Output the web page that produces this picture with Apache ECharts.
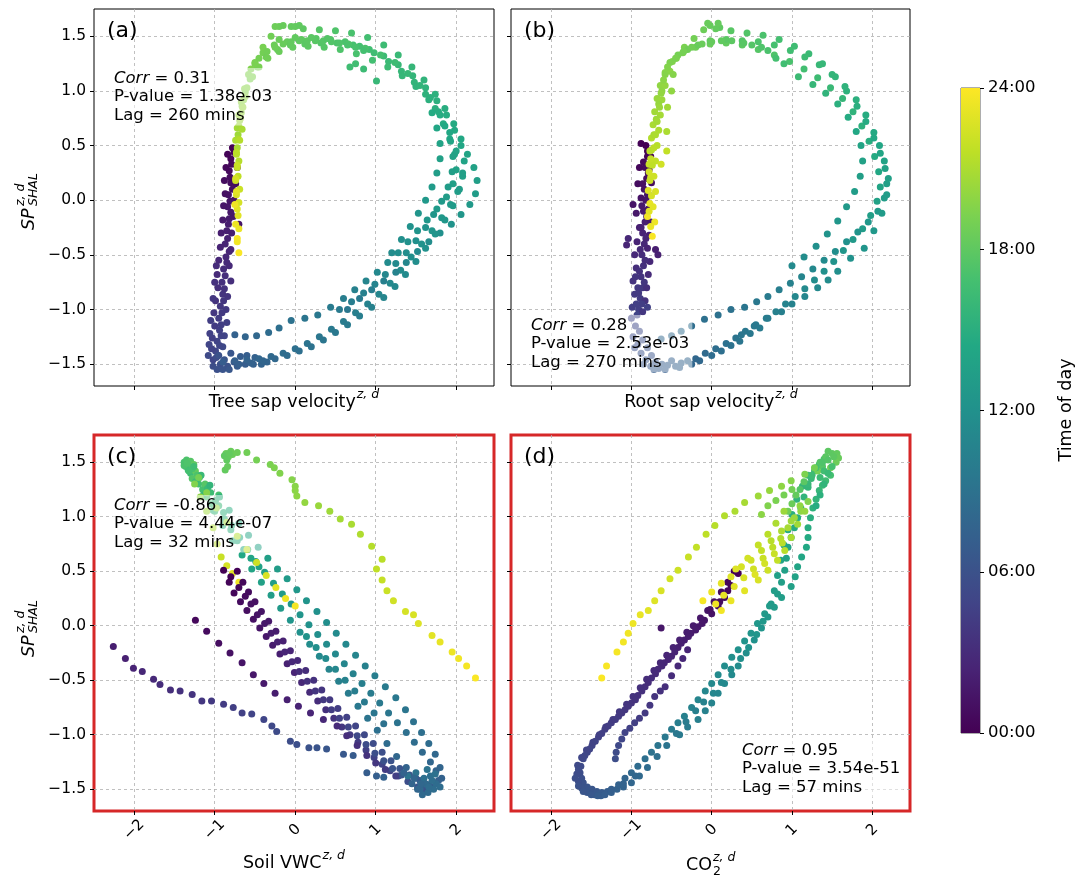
<!DOCTYPE html>
<html>
<head>
<meta charset="utf-8">
<script src="https://cdn.jsdelivr.net/npm/echarts@6/dist/echarts.min.js"></script>
<style>
  html, body { margin: 0; padding: 0; background: #fff; }
  #chart { width: 1087px; height: 880px; }
</style>
</head>
<body>
<div id="chart"></div>
<script>
// tick values
var xTicks = [-2, -1, 0, 1, 2];
var yTicks = [-1.5, -1.0, -0.5, 0.0, 0.5, 1.0, 1.5];
var hourTicks = [0, 6, 12, 18, 24];

var panelLabels = ['(a)', '(b)', '(c)', '(d)'];
var xNames = ['Tree sap velocity', 'Root sap velocity', 'Soil VWC', 'CO'];
var statCorr = ['0.31', '0.28', '-0.86', '0.95'];
var statP = ['1.38e-03', '2.53e-03', '4.44e-07', '3.54e-51'];
var statLag = ['260', '270', '32', '57'];

// [x, y, hour of day]
var treeSap = [
  [-0.78,0.48,0.0],[-0.80,0.38,0.3],[-0.82,0.27,0.6],[-0.80,0.16,0.9],[-0.83,0.05,1.2],[-0.84,-0.06,1.5],[-0.82,-0.17,1.8],[-0.85,-0.28,2.1],[-0.87,-0.40,2.4],[-0.86,-0.52,2.7],[-0.89,-0.63,3.0],[-0.91,-0.75,3.3],[-0.90,-0.86,3.6],[-0.93,-0.97,3.9],[-0.95,-1.08,4.2],[-0.94,-1.19,4.5],[-0.97,-1.29,4.8],[-0.99,-1.38,5.1],
  [-0.84,0.42,0.2],[-0.86,0.30,0.5],[-0.88,0.18,0.8],[-0.87,0.06,1.1],[-0.89,-0.05,1.4],[-0.90,-0.18,1.7],[-0.92,-0.30,2.0],[-0.93,-0.43,2.3],[-0.95,-0.55,2.6],[-0.97,-0.68,2.9],[-0.96,-0.80,3.2],[-0.99,-0.92,3.5],[-1.01,-1.03,3.8],[-1.00,-1.15,4.1],[-1.03,-1.26,4.4],[-1.04,-1.36,4.7],[-1.02,-1.46,5.0],
  [-0.72,0.30,0.4],[-0.74,0.15,0.8],[-0.76,0.00,1.2],[-0.77,-0.15,1.6],[-0.79,-0.30,2.0],[-0.80,-0.45,2.4],[-0.82,-0.60,2.8],[-0.80,-0.74,3.2],[-0.84,-0.88,3.6],[-0.86,-1.00,4.0],[-0.85,-1.12,4.4],[-0.88,-1.24,4.8],[-0.90,-1.34,5.2],[-0.70,-0.22,1.3],
  [-0.76,0.44,0.1],[-0.79,0.33,0.45],[-0.81,0.21,0.75],[-0.78,0.10,1.05],[-0.81,-0.01,1.35],[-0.80,-0.11,1.65],[-0.83,-0.22,1.95],[-0.84,-0.35,2.25],[-0.82,-0.47,2.55],[-0.85,-0.57,2.85],[-0.87,-0.69,3.15],[-0.88,-0.81,3.45],[-0.89,-0.92,3.75],[-0.91,-1.03,4.05],[-0.92,-1.14,4.35],[-0.92,-1.24,4.65],[-0.94,-1.33,4.95],[-0.96,-1.42,5.25],
  [-0.98,-0.60,3.0],[-1.00,-0.75,3.4],[-1.02,-0.90,3.8],[-1.05,-1.10,4.3],[-1.06,-1.22,4.6],[-1.07,-1.32,4.9],[-1.08,-1.42,5.3],
  [-0.98,-1.44,5.5],[-0.93,-1.50,5.8],[-0.84,-1.52,6.1],[-0.95,-1.42,6.0],[-0.88,-1.46,6.3],[-0.76,-1.48,6.6],[-0.80,-1.40,6.4],[-0.68,-1.43,6.9],
  [-1.02,-1.52,5.6],[-0.97,-1.55,5.9],[-0.90,-1.55,6.2],[-0.82,-1.55,6.5],[-0.72,-1.52,6.8],[-0.62,-1.50,7.0],[-0.52,-1.50,7.3],[-0.42,-1.50,7.6],[-0.35,-1.48,7.7],[-0.60,-1.42,7.1],[-0.50,-1.44,7.4],
  [-0.75,-1.23,7.5],[-0.62,-1.25,7.8],[-0.48,-1.24,8.1],[-0.33,-1.21,8.4],[-0.20,-1.17,8.7],[-0.05,-1.10,9.0],[0.12,-1.08,9.3],[0.28,-1.05,9.6],[0.44,-0.98,9.9],[0.60,-0.90,10.2],[0.74,-0.82,10.5],[0.88,-0.74,10.8],[1.02,-0.66,11.1],[1.15,-0.57,11.4],[1.28,-0.48,11.7],[1.40,-0.38,12.0],[1.52,-0.28,12.3],[1.64,-0.18,12.6],[1.76,-0.08,12.9],[1.88,0.03,13.2],[1.96,0.15,13.5],[2.00,0.28,13.8],[1.98,0.42,14.1],[1.92,0.56,14.4],[1.84,0.70,14.7],[1.74,0.84,15.0],[1.62,0.97,15.3],[1.48,1.08,15.6],[1.32,1.18,15.9],[1.16,1.27,16.2],[0.98,1.35,16.5],[0.80,1.41,16.8],[0.62,1.45,17.1],[0.44,1.47,17.4],[0.26,1.48,17.7],[0.08,1.47,18.0],[-0.10,1.45,18.3],[-0.26,1.42,18.6],[-0.40,1.35,18.9],[-0.50,1.26,19.2],[-0.58,1.15,19.5],[-0.63,1.02,19.8],[-0.67,0.90,20.1],[-0.70,0.78,20.4],[-0.72,0.66,20.7],[-0.74,0.55,21.0],[-0.73,0.42,21.4],[-0.72,0.30,21.8],[-0.74,0.18,22.2],[-0.73,0.05,22.6],[-0.72,-0.08,23.0],[-0.74,-0.22,23.4],[-0.72,-0.35,23.8],
  [-0.90,-1.48,7.0],[-0.75,-1.47,7.3],[-0.60,-1.46,7.6],[-0.45,-1.45,7.9],[-0.30,-1.43,8.2],[-0.15,-1.40,8.5],[0.00,-1.36,8.8],[0.15,-1.31,9.1],[0.30,-1.25,9.4],[0.45,-1.18,9.7],[0.60,-1.11,10.0],[0.75,-1.03,10.3],[0.90,-0.95,10.6],[1.04,-0.86,10.9],[1.18,-0.76,11.2],[1.31,-0.64,11.5],[1.44,-0.52,11.8],[1.57,-0.40,12.1],[1.70,-0.28,12.4],[1.82,-0.16,12.7],[1.93,-0.04,13.0],[2.02,0.08,13.3],[2.08,0.22,13.6],[2.10,0.36,13.9],[2.06,0.50,14.2],[1.98,0.64,14.5],[1.88,0.78,14.8],[1.76,0.91,15.1],[1.62,1.03,15.4],[1.46,1.14,15.7],[1.28,1.24,16.0],[1.10,1.32,16.3],[0.92,1.38,16.6],[0.72,1.42,16.9],[0.52,1.44,17.2],[0.32,1.44,17.5],[0.12,1.43,17.8],[-0.06,1.42,18.1],[-0.22,1.38,18.4],[-0.36,1.31,18.7],[-0.47,1.22,19.0],[-0.56,1.11,19.3],[-0.62,0.99,19.6],[-0.66,0.86,19.9],[-0.69,0.73,20.2],[-0.71,0.60,20.5],[-0.72,0.48,20.9],[-0.70,0.36,21.3],[-0.71,0.22,21.7],[-0.69,0.10,22.1],[-0.70,-0.02,22.5],[-0.71,-0.14,22.9],[-0.70,-0.26,23.3],[-0.72,-0.38,23.6],[-0.70,-0.48,23.9],
  [0.65,-1.00,9.5],[0.80,-0.90,9.8],[0.95,-0.82,10.1],[1.10,-0.74,10.4],[1.25,-0.66,10.7],[1.38,-0.57,11.0],[1.52,-0.47,11.3],[1.66,-0.38,11.6],[1.80,-0.30,11.9],[1.94,-0.22,12.2],[2.06,-0.13,12.5],[2.17,-0.04,12.8],[2.24,0.06,13.1],[2.26,0.18,13.4],[2.22,0.30,13.7],[2.14,0.42,14.0],[2.06,0.56,14.3],[1.97,0.70,14.6],[1.86,0.84,14.9],[1.74,0.97,15.2],[1.60,1.10,15.5],[1.45,1.22,15.8],[1.28,1.33,16.1],[1.10,1.42,16.4],[0.90,1.49,16.7],[0.70,1.53,17.0],[0.50,1.55,17.3],[0.30,1.56,17.6],[0.10,1.57,17.9],[-0.05,1.59,18.2],[-0.20,1.59,18.5],[-0.30,1.50,18.8],[-0.40,1.40,19.1],
  [-0.70,-1.50,7.2],[-0.55,-1.49,7.5],[-0.40,-1.47,7.8],[-0.25,-1.45,8.1],[-0.10,-1.42,8.4],[0.05,-1.38,8.7],[0.20,-1.34,9.0],[0.35,-1.28,9.3],[0.50,-1.21,9.6],[0.65,-1.14,9.9],[0.80,-1.06,10.2],[0.95,-0.98,10.5],[1.10,-0.89,10.8],[1.24,-0.79,11.1],[1.37,-0.68,11.4],[1.50,-0.56,11.7],[1.62,-0.44,12.0],[1.74,-0.31,12.3],[1.86,-0.18,12.6],[1.96,-0.05,12.9],[2.04,0.10,13.2],[2.08,0.25,13.5],[2.00,0.45,13.9],[1.92,0.62,14.3],[1.80,0.78,14.7],[1.66,0.92,15.1],[1.50,1.04,15.5],[1.33,1.14,15.9],[1.15,1.22,16.3],[0.96,1.28,16.7],[0.76,1.34,17.0],[0.56,1.38,17.3],[0.36,1.40,17.6],[0.16,1.41,17.9],[-0.03,1.40,18.2],[-0.20,1.36,18.5],[-0.34,1.30,18.8],[-0.45,1.22,19.1],[-0.53,1.13,19.4],[-0.60,1.03,19.7],[-0.64,0.92,20.0],[-0.67,0.80,20.3],[-0.70,0.68,20.6],[-0.71,0.56,21.0],[-0.73,0.44,21.5],[-0.72,0.32,22.0],[-0.74,0.20,22.5],[-0.73,0.08,23.0],[-0.75,-0.04,23.5],
  [0.55,-1.00,9.8],[0.70,-0.93,10.1],[0.85,-0.85,10.4],[0.99,-0.77,10.7],[1.12,-0.68,11.0],[1.25,-0.58,11.3],[1.38,-0.48,11.6],[1.50,-0.37,11.9],[1.62,-0.25,12.2],[1.72,-0.13,12.5],[1.82,-0.01,12.8],[1.90,0.12,13.1],[1.95,0.26,13.4],[1.96,0.40,13.7],[1.93,0.54,14.0],[1.86,0.68,14.4],[1.78,0.81,14.8],[1.68,0.94,15.2],[1.55,1.05,15.6],[1.40,1.16,16.0],[1.24,1.26,16.4],[1.06,1.33,16.8],[0.87,1.39,17.1],[0.66,1.43,17.4],
  [1.20,-0.48,11.5],[1.32,-0.36,11.8],[1.43,-0.24,12.1],[1.53,-0.12,12.4],[1.62,0.00,12.7],[1.70,0.12,13.0],[1.76,0.25,13.3],[1.80,0.38,13.6],[1.80,0.52,13.9],[1.76,0.66,14.2],[1.70,0.80,14.6],
  [-0.45,1.30,19.0],[-0.35,1.36,18.8],[-0.25,1.40,18.6],[-0.15,1.43,18.4],[-0.05,1.45,18.2],[0.05,1.46,18.0],[0.15,1.46,17.9],[0.25,1.46,17.7],[0.35,1.46,17.6],[0.45,1.45,17.4],[0.55,1.44,17.3],[0.65,1.42,17.1],[0.75,1.40,17.0],[0.85,1.37,16.8],[-0.20,1.47,18.5],[0.00,1.49,18.1],[0.20,1.49,17.8],[0.40,1.48,17.5],[-0.55,1.20,19.4],[-0.50,1.25,19.2],
  [-0.25,1.59,18.6],[-0.15,1.60,18.4],[0.00,1.59,18.2],[0.05,1.60,18.1],
  [-0.62,0.95,20.0],[-0.65,0.85,20.3],[-0.68,0.75,20.6],[-0.66,0.65,20.9],[-0.69,0.55,21.3],
  [0.68,1.22,16.5],[0.75,1.25,16.6],[1.01,1.09,16.0],[0.85,1.20,16.3]
];

var rootSap = [
  [-0.82,0.50,0.0],[-0.80,0.40,0.3],[-0.83,0.30,0.6],[-0.81,0.20,0.9],[-0.84,0.10,1.2],[-0.82,0.00,1.5],[-0.85,-0.10,1.8],[-0.83,-0.20,2.1],[-0.86,-0.30,2.4],[-0.84,-0.40,2.7],[-0.87,-0.50,3.0],[-0.85,-0.60,3.3],[-0.88,-0.70,3.6],[-0.86,-0.80,3.9],[-0.89,-0.90,4.2],[-0.91,-1.00,4.5],[-0.93,-1.05,4.8],
  [-0.76,0.40,0.2],[-0.78,0.28,0.5],[-0.75,0.16,0.8],[-0.77,0.04,1.1],[-0.79,-0.08,1.4],[-0.76,-0.20,1.7],[-0.78,-0.32,2.0],[-0.80,-0.44,2.3],[-0.77,-0.56,2.6],[-0.79,-0.68,2.9],[-0.81,-0.80,3.2],[-0.83,-0.92,3.5],[-0.86,-1.02,3.8],
  [-0.90,0.30,0.4],[-0.92,0.15,0.8],[-0.88,0.02,1.2],[-0.94,-0.12,1.6],[-0.90,-0.25,2.0],[-0.93,-0.38,2.4],[-0.96,-0.50,2.8],[-0.94,-0.62,3.2],[-0.98,-0.74,3.6],[-0.96,-0.86,4.0],[-0.99,-0.98,4.4],
  [-0.98,-0.04,1.3],[-1.06,-0.41,2.5],[-1.04,-0.35,2.7],[-0.67,-0.50,2.2],[-0.70,-0.45,2.0],[-0.88,0.52,0.1],
  [-0.80,0.45,0.15],[-0.85,0.35,0.45],[-0.79,0.25,0.75],[-0.86,0.15,1.05],[-0.80,0.05,1.35],[-0.87,-0.05,1.65],[-0.81,-0.15,1.95],[-0.88,-0.25,2.25],[-0.82,-0.35,2.55],[-0.89,-0.45,2.85],[-0.83,-0.55,3.15],[-0.90,-0.65,3.45],[-0.84,-0.75,3.75],[-0.91,-0.85,4.05],[-0.87,-0.95,4.35],[-0.94,-0.95,4.5],[-0.80,-0.98,4.6],[-0.95,-0.70,3.7],[-0.92,-0.80,4.0],
  [-1.00,-1.08,5.0],[-0.95,-1.15,5.2],[-0.90,-1.20,5.4],[-0.98,-1.25,5.5],[-0.86,-1.28,5.7],[-0.92,-1.32,5.8],[-0.80,-1.35,6.0],[-0.88,-1.40,6.1],[-0.75,-1.42,6.3],[-0.82,-1.46,6.4],[-0.70,-1.48,6.6],[-0.76,-1.52,6.7],[-0.62,-1.50,6.9],[-0.66,-1.54,7.0],[-0.55,-1.51,7.2],[-0.50,-1.47,7.3],[-0.45,-1.52,7.4],[-0.38,-1.49,7.6],[-0.30,-1.47,7.8],
  [-0.96,-1.35,5.9],[-0.85,-1.50,6.5],[-0.72,-1.55,6.9],[-0.58,-1.55,7.1],[-0.40,-1.53,7.5],[-0.25,-1.50,7.9],[-0.15,-1.47,8.1],
  [-0.20,-1.45,8.0],[-0.08,-1.40,8.3],[0.05,-1.36,8.6],[0.18,-1.31,8.9],[0.30,-1.26,9.2],[0.42,-1.20,9.5],[0.55,-1.14,9.8],[0.68,-1.08,10.1],[0.80,-1.02,10.4],[0.92,-0.95,10.7],[1.04,-0.88,11.0],[1.16,-0.81,11.3],[1.28,-0.73,11.6],[1.40,-0.65,11.9],[1.52,-0.56,12.2],[1.64,-0.46,12.5],[1.76,-0.36,12.8],[1.88,-0.26,13.1],[1.98,-0.14,13.4],[2.06,-0.01,13.7],[2.10,0.12,14.0],[2.08,0.26,14.3],[2.03,0.40,14.6],[1.96,0.54,14.9],[1.87,0.68,15.2],[1.76,0.81,15.5],[1.63,0.93,15.8],[1.48,1.03,16.1],[1.32,1.12,16.4],[1.15,1.20,16.7],[0.97,1.27,17.0],[0.78,1.33,17.3],[0.58,1.38,17.6],[0.38,1.42,17.9],[0.18,1.44,18.2],[-0.02,1.43,18.5],[-0.20,1.40,18.8],[-0.36,1.35,19.1],[-0.49,1.27,19.4],[-0.58,1.17,19.7],[-0.64,1.05,20.0],[-0.68,0.93,20.3],[-0.71,0.81,20.6],[-0.73,0.69,20.9],[-0.75,0.57,21.2],[-0.77,0.45,21.6],[-0.78,0.33,22.0],[-0.76,0.21,22.4],[-0.79,0.09,22.8],[-0.77,-0.03,23.2],[-0.80,-0.15,23.6],
  [0.00,-1.42,8.4],[0.12,-1.38,8.7],[0.24,-1.33,9.0],[0.35,-1.29,9.3],[0.48,-1.22,9.6],[0.60,-1.17,9.9],
  [-0.63,-1.27,8.0],[-0.50,-1.24,8.2],[-0.38,-1.20,8.4],[-0.25,-1.15,8.6],[-0.09,-1.09,8.8],
  [0.08,-1.05,8.9],[0.24,-1.00,9.0],[0.41,-0.98,9.3],[0.56,-0.93,9.6],[0.70,-0.88,9.9],[0.84,-0.82,10.2],[0.98,-0.76,10.5],[1.12,-0.70,10.8],[1.26,-0.63,11.1],[1.40,-0.55,11.4],[1.54,-0.47,11.7],[1.68,-0.38,12.0],[1.82,-0.29,12.3],[1.95,-0.20,12.6],[2.07,-0.10,12.9],[2.15,0.02,13.2],[2.18,0.15,13.5],[2.16,0.29,13.8],[2.10,0.43,14.1],[2.02,0.57,14.4],[1.92,0.72,14.7],[1.81,0.86,15.0],[1.68,1.00,15.3],[1.54,1.13,15.6],[1.38,1.25,15.9],[1.21,1.34,16.2],[1.03,1.41,16.5],[0.84,1.47,16.8],[0.64,1.51,17.1],[0.44,1.53,17.4],[0.24,1.55,17.7],[0.10,1.58,18.0],[-0.02,1.60,18.3],[-0.10,1.56,18.6],[-0.22,1.48,18.9],[-0.34,1.40,19.2],[-0.44,1.30,19.5],[-0.52,1.18,19.8],[-0.58,1.05,20.1],[-0.62,0.92,20.4],[-0.64,0.78,20.7],[-0.66,0.64,21.0],[-0.68,0.50,21.4],[-0.70,0.36,21.8],[-0.72,0.22,22.2],[-0.70,0.08,22.6],[-0.73,-0.06,23.0],[-0.71,-0.20,23.4],[-0.74,-0.33,23.8],
  [0.37,-1.23,9.4],[0.53,-1.15,9.7],[0.70,-1.08,10.0],[0.87,-1.02,10.3],[1.00,-0.95,10.6],[1.16,-0.88,10.9],[1.32,-0.80,11.2],[1.45,-0.73,11.5],[1.57,-0.65,11.8],[1.73,-0.53,12.1],[1.90,-0.44,12.4],[2.02,-0.28,12.7],[2.12,-0.12,13.0],[2.18,0.05,13.3],[2.20,0.20,13.6],[2.15,0.36,13.9],[2.09,0.50,14.2],[2.02,0.62,14.5],[1.92,0.78,14.8],[1.80,0.92,15.1],[1.66,1.04,15.4],[1.50,1.15,15.7],[1.34,1.24,16.0],[1.16,1.31,16.3],[0.98,1.37,16.6],[0.78,1.42,16.9],[0.58,1.45,17.2],[0.38,1.46,17.5],[0.18,1.47,17.8],[-0.02,1.46,18.1],[-0.17,1.42,18.4],[-0.30,1.38,18.7],[-0.42,1.33,19.0],[-0.52,1.26,19.3],[-0.58,1.15,19.6],[-0.62,1.00,19.9],[-0.66,0.88,20.2],[-0.69,0.74,20.5],[-0.72,0.60,20.9],[-0.75,0.46,21.3],[-0.74,0.32,21.7],[-0.77,0.18,22.1],[-0.75,0.04,22.5],[-0.78,-0.10,22.9],[-0.76,-0.24,23.3],
  [-0.56,0.63,21.0],[-0.56,0.45,21.8],[-0.63,0.33,22.3],[-0.55,0.85,20.6],[-0.50,1.00,20.0],[-0.48,1.15,19.6],
  [-0.55,1.22,19.5],[-0.45,1.30,19.2],[-0.35,1.36,19.0],[-0.25,1.40,18.8],[-0.12,1.43,18.5],[0.00,1.45,18.3],[0.12,1.46,18.1],[0.25,1.46,17.9],[0.40,1.44,17.7],[0.50,1.42,17.5],[0.62,1.40,17.3],[0.70,1.37,17.1],[0.80,1.30,16.8],[0.90,1.25,16.6],[-0.05,1.62,18.4],[0.05,1.57,18.2],[0.08,1.62,18.3],
  [-0.60,1.10,19.8],[-0.63,0.98,20.1],[-0.65,0.85,20.4],[-0.68,0.72,20.7],[-0.70,0.60,21.0],[-0.72,0.48,21.5],[-0.76,0.38,21.9],[-0.78,0.26,22.3],
  [1.00,-0.60,11.3],[1.15,-0.52,11.6],[1.30,-0.42,11.9],[1.44,-0.31,12.2],[1.57,-0.19,12.5],[1.68,-0.06,12.8],[1.78,0.08,13.1],[1.85,0.22,13.4],[1.88,0.36,13.7],[1.86,0.50,14.0],[1.80,0.63,14.3],[1.70,0.76,14.7],[1.57,0.88,15.1],[1.42,0.98,15.5],[1.26,1.06,15.9],[1.08,1.13,16.3]
];

var soilVwc = [
  [-0.87,1.43,18.2],[-0.84,1.46,18.3],[-0.83,1.55,18.4],[-0.78,1.57,18.5],[-0.86,1.58,18.45],[-0.80,1.60,18.5],[-0.88,1.56,18.0],[-0.85,1.52,18.1],[-0.82,1.58,18.2],
  [-0.72,1.59,18.6],[-0.60,1.59,18.8],[-0.48,1.52,19.0],[-0.31,1.48,19.2],[-0.26,1.45,19.3],[-0.19,1.40,19.4],[-0.04,1.34,19.6],[0.00,1.28,19.7],[0.00,1.24,19.8],[0.02,1.19,19.9],[0.12,1.13,20.1],[0.29,1.10,20.3],[0.43,1.05,20.5],[0.56,0.98,20.7],[0.70,0.93,20.9],[0.81,0.84,21.1],[0.95,0.73,21.3],[1.08,0.61,21.5],[1.01,0.52,21.7],[1.08,0.42,21.9],[1.14,0.32,22.1],[1.22,0.23,22.3],[1.37,0.13,22.5],[1.47,0.10,22.6],[1.53,0.02,22.8],[1.70,-0.09,23.0],[1.80,-0.15,23.2],[1.95,-0.24,23.4],[2.03,-0.30,23.5],[2.13,-0.37,23.7],[2.24,-0.48,23.9],
  [-1.38,1.50,17.0],[-1.35,1.52,17.2],[-1.32,1.48,17.4],[-1.30,1.51,17.6],[-1.36,1.46,16.8],[-1.28,1.45,17.8],[-1.33,1.43,16.6],[-1.26,1.48,18.0],[-1.30,1.40,16.4],[-1.24,1.42,18.2],[-1.38,1.47,17.1],[-1.34,1.49,17.3],
  [-1.20,1.30,16.7],[-1.15,1.25,16.9],[-1.10,1.18,17.1],[-1.05,1.12,16.6],[-1.00,1.05,16.3],[-1.22,1.38,17.2],[-1.28,1.35,17.5],[-1.12,1.30,17.6],[-0.95,1.20,17.0],
  [-0.95,1.10,16.0],[-0.88,0.98,15.6],[-0.80,0.88,15.2],[-0.72,0.78,14.8],[-0.64,0.70,14.5],[-0.55,0.62,14.1],[-0.45,0.54,13.8],[-1.05,1.22,16.4],
  [1.70,-1.48,7.0],[1.78,-1.42,7.3],[1.75,-1.33,7.6],[1.68,-1.25,7.9],[1.58,-1.16,8.2],[1.48,-1.07,8.5],[1.38,-0.98,8.8],[1.27,-0.89,9.1],[1.16,-0.80,9.4],[1.05,-0.71,9.7],[0.94,-0.62,10.0],[0.83,-0.53,10.3],[0.72,-0.44,10.6],[0.61,-0.35,10.9],[0.50,-0.26,11.2],[0.39,-0.17,11.5],[0.28,-0.08,11.8],[0.17,0.01,12.1],[0.06,0.10,12.4],[-0.05,0.20,12.7],[-0.16,0.29,13.0],[-0.27,0.39,13.3],[-0.38,0.49,13.6],[-0.49,0.59,13.9],[-0.59,0.70,14.2],[-0.69,0.81,14.6],[-0.79,0.92,15.0],[-0.89,1.04,15.4],[-0.99,1.15,15.8],[-1.09,1.26,16.2],[-1.19,1.36,16.6],[-1.28,1.44,17.0],
  [1.82,-1.40,7.5],[1.80,-1.30,7.8],[1.74,-1.18,8.1],[1.66,-1.08,8.4],[1.57,-0.98,8.7],[1.47,-0.88,9.0],[1.37,-0.77,9.3],[1.25,-0.66,9.6],[1.12,-0.56,9.9],[0.99,-0.46,10.2],[0.87,-0.37,10.5],[0.75,-0.27,10.8],[0.63,-0.17,11.1],[0.51,-0.07,11.4],[0.39,0.03,11.7],[0.27,0.13,12.0],[0.14,0.23,12.3],[0.02,0.33,12.6],[-0.10,0.43,12.9],[-0.22,0.52,13.2],[-0.34,0.62,13.5],[-0.46,0.72,13.8],[-0.58,0.83,14.1],[-0.70,0.94,14.5],[-0.82,1.06,14.9],[-0.94,1.18,15.3],[-1.06,1.29,15.7],[-1.17,1.38,16.1],[-1.26,1.46,16.5],
  [1.60,-1.50,6.8],[1.50,-1.40,7.2],[1.38,-1.30,7.6],[1.26,-1.20,8.0],[1.14,-1.08,8.4],[1.02,-0.96,8.8],[0.90,-0.85,9.2],[0.78,-0.74,9.6],[0.66,-0.62,10.0],[0.54,-0.51,10.4],[0.42,-0.40,10.8],[0.30,-0.28,11.2],[0.18,-0.17,11.6],[0.06,-0.06,12.0],[-0.06,0.05,12.4],[-0.18,0.16,12.8],[-0.30,0.28,13.2],[-0.42,0.40,13.6],[-0.54,0.52,14.0],[-0.66,0.65,14.4],[-0.78,0.78,14.8],[-0.90,0.92,15.2],[-1.02,1.06,15.6],[-1.14,1.20,16.0],[-1.24,1.32,16.4],[-1.32,1.42,16.8],
  [1.10,-0.90,9.0],[0.98,-0.80,9.4],[0.86,-0.70,9.8],[0.74,-0.60,10.2],[0.62,-0.50,10.6],[0.50,-0.40,11.0],[0.38,-0.30,11.4],[0.26,-0.20,11.8],[0.14,-0.10,12.2],
  [-1.25,1.30,19.5],[-1.18,1.18,20.0],[-1.10,1.05,20.5],[-1.02,0.90,21.0],[-0.97,0.75,21.5],[-0.92,0.63,22.0],[-0.85,0.55,22.5],[-0.78,0.48,23.0],[-0.70,0.40,23.5],
  [-1.20,1.36,19.0],[-1.10,1.22,19.6],[-0.98,1.08,20.2],[-0.85,0.95,20.7],[-0.72,0.82,21.2],[-0.60,0.70,21.7],[-0.48,0.58,22.2],[-0.36,0.46,22.6],[-0.24,0.35,23.0],[-0.12,0.25,23.4],[0.00,0.18,23.7],
  [-0.89,0.51,0.0],[-0.82,0.40,0.2],[-0.76,0.30,0.4],[-0.68,0.22,0.7],[-0.60,0.14,0.9],[-0.52,0.06,1.1],[-0.44,-0.02,1.3],[-0.36,-0.10,1.6],[-0.28,-0.18,1.8],[-0.19,-0.26,2.0],[-0.10,-0.35,2.2],[-0.01,-0.43,2.4],[0.08,-0.52,2.7],[0.18,-0.61,2.9],[0.28,-0.69,3.1],[0.38,-0.77,3.3],[0.48,-0.85,3.6],[0.58,-0.93,3.8],[0.68,-1.00,4.0],[0.78,-1.07,4.2],[0.88,-1.14,4.4],[0.98,-1.21,4.7],[1.08,-1.27,4.9],[1.18,-1.33,5.1],[1.28,-1.38,5.3],[1.40,-1.43,5.6],[1.52,-1.48,5.8],[1.62,-1.52,6.0],
  [-0.72,0.50,0.1],[-0.65,0.40,0.4],[-0.58,0.31,0.7],[-0.50,0.22,1.0],[-0.42,0.13,1.3],[-0.33,0.04,1.6],[-0.24,-0.05,1.9],[-0.15,-0.14,2.2],[-0.06,-0.23,2.5],[0.03,-0.32,2.8],[0.13,-0.41,3.1],[0.23,-0.50,3.4],[0.33,-0.59,3.7],[0.43,-0.68,4.0],[0.53,-0.76,4.3],[0.64,-0.84,4.6],[0.75,-0.92,4.9],[0.86,-1.00,5.2],[0.97,-1.08,5.5],[1.08,-1.16,5.8],[1.19,-1.24,6.0],[1.30,-1.31,6.2],[1.42,-1.37,6.4],[1.55,-1.42,6.6],[1.66,-1.46,6.8],
  [-0.80,0.45,0.1],[-0.70,0.35,0.4],[-0.62,0.27,0.7],[-0.55,0.20,1.0],[-0.47,0.10,1.3],[-0.38,0.02,1.6],[-0.30,-0.07,1.9],[-0.22,-0.15,2.2],[-0.13,-0.24,2.5],[-0.04,-0.33,2.8],[0.05,-0.42,3.1],[0.15,-0.51,3.4],[0.25,-0.60,3.7],[0.35,-0.68,4.0],[0.45,-0.77,4.3],[0.55,-0.85,4.6],[0.66,-0.93,4.9],[0.77,-1.01,5.2],[0.88,-1.09,5.5],[0.99,-1.17,5.8],[1.10,-1.24,6.0],[1.21,-1.31,6.2],[1.32,-1.37,6.4],
  [-1.24,0.05,0.5],[-1.10,-0.05,0.7],[-0.95,-0.16,0.9],[-0.81,-0.25,1.1],[-0.66,-0.34,1.3],[-0.52,-0.45,1.5],[-0.39,-0.53,1.7],[-0.25,-0.62,1.9],[-0.10,-0.68,2.1],[0.04,-0.74,2.3],[0.19,-0.80,2.5],[0.35,-0.86,2.7],[0.52,-0.92,2.9],[0.64,-1.01,3.1],[0.77,-1.10,3.3],[0.89,-1.19,3.5],[1.00,-1.26,3.8],[1.12,-1.32,4.1],[1.25,-1.38,4.4],
  [-2.26,-0.19,2.0],[-2.11,-0.30,2.2],[-2.01,-0.39,2.4],[-1.90,-0.42,2.6],[-1.76,-0.49,2.8],[-1.68,-0.54,3.0],[-1.55,-0.59,3.2],[-1.43,-0.60,3.4],[-1.28,-0.63,3.6],[-1.16,-0.69,3.8],[-1.04,-0.69,4.0],[-0.89,-0.72,4.2],[-0.77,-0.75,4.4],[-0.66,-0.80,4.6],[-0.54,-0.81,4.8],[-0.39,-0.86,5.0],[-0.29,-0.92,5.2],[-0.23,-0.97,5.4],[-0.06,-1.06,5.6],[0.02,-1.09,5.8],[0.17,-1.12,6.0],[0.27,-1.12,6.2],[0.39,-1.13,6.4],[0.60,-1.18,6.6],[0.72,-1.19,6.8],[0.89,-1.35,7.0],[1.01,-1.38,7.2],[1.10,-1.39,7.4],
  [1.45,-1.45,7.7],[1.55,-1.50,8.1],[1.65,-1.53,8.3],[1.72,-1.50,8.5],[1.60,-1.40,8.8],[1.50,-1.35,9.0],[1.68,-1.38,8.7],[1.75,-1.45,8.4],[1.58,-1.55,8.2],[1.40,-1.38,9.2],
  [1.62,-1.45,8.2],[1.70,-1.42,8.6],[1.66,-1.48,8.4],[1.56,-1.45,8.0],[1.48,-1.40,7.8],[1.35,-1.35,7.6],[1.74,-1.36,8.9],[1.64,-1.32,9.1],[1.52,-1.50,7.9],[1.80,-1.48,8.5]
];

var co2 = [
  [0.33,0.48,0.0],[0.24,0.37,0.3],[0.16,0.26,0.6],[0.08,0.18,0.9],[0.00,0.11,1.2],[-0.09,0.05,1.4],[-0.17,-0.01,1.6],[-0.26,-0.07,1.8],[-0.34,-0.13,2.0],[-0.42,-0.20,2.2],[-0.50,-0.28,2.4],[-0.59,-0.34,2.6],[-0.67,-0.40,2.8],[-0.75,-0.48,3.0],[-0.83,-0.56,3.2],[-0.92,-0.64,3.4],[-1.00,-0.71,3.6],[-1.08,-0.77,3.8],[-1.16,-0.83,4.0],[-1.25,-0.89,4.2],[-1.33,-0.95,4.4],[-1.41,-1.02,4.6],[-1.49,-1.10,4.8],[-1.55,-1.16,5.0],[-1.60,-1.22,5.2],[-1.63,-1.29,5.4],[-1.64,-1.35,5.6],[-1.62,-1.40,5.8],[-1.60,-1.44,6.0],[-1.55,-1.48,6.2],[-1.49,-1.50,6.4],[-1.43,-1.52,6.6],[-1.37,-1.53,6.8],[-1.30,-1.52,7.0],
  [0.28,0.50,0.1],[0.20,0.40,0.4],[0.12,0.31,0.7],[0.03,0.22,1.0],[-0.05,0.14,1.3],[-0.14,0.07,1.5],[-0.23,0.00,1.7],[-0.31,-0.06,1.9],[-0.40,-0.13,2.1],[-0.48,-0.20,2.3],[-0.56,-0.27,2.5],[-0.64,-0.34,2.7],[-0.72,-0.41,2.9],[-0.81,-0.49,3.1],[-0.89,-0.57,3.3],[-0.98,-0.65,3.5],[-1.06,-0.72,3.7],[-1.15,-0.79,3.9],[-1.23,-0.86,4.1],[-1.32,-0.93,4.3],[-1.40,-1.00,4.5],[-1.48,-1.07,4.7],[-1.56,-1.14,4.9],[-1.62,-1.21,5.1],[-1.67,-1.28,5.3],[-1.68,-1.36,5.5],[-1.66,-1.43,5.8],[-1.62,-1.49,6.1],[-1.55,-1.53,6.4],[-1.46,-1.55,6.7],[-1.38,-1.56,7.0],
  [0.20,0.32,0.5],[0.10,0.22,0.8],[-0.02,0.15,1.1],[-0.12,0.02,1.5],[-0.20,-0.04,1.7],[-0.29,-0.10,1.9],[-0.38,-0.16,2.1],[-0.46,-0.24,2.3],[-0.54,-0.31,2.5],[-0.62,-0.37,2.7],[-0.70,-0.44,2.9],[-0.79,-0.52,3.1],[-0.87,-0.60,3.3],[-0.95,-0.68,3.5],[-1.04,-0.74,3.7],[-1.12,-0.80,3.9],[-1.20,-0.86,4.1],[-1.29,-0.92,4.3],[-1.37,-0.99,4.5],[-1.45,-1.06,4.7],[-1.52,-1.13,4.9],[-1.58,-1.19,5.1],[-1.66,-1.32,5.5],[-1.70,-1.40,5.7],[-1.66,-1.47,6.0],[-1.60,-1.52,6.3],[-1.50,-1.55,6.6],[-1.42,-1.56,6.9],[-1.33,-1.55,7.1],[-1.25,-1.53,7.3],[-1.18,-1.50,7.5],[-1.10,-1.48,7.6],[-1.00,-1.44,7.9],[-0.90,-1.38,8.2],
  [-0.63,-0.02,1.5],
  [-0.30,-0.22,2.4],[-0.36,-0.30,2.6],[-0.42,-0.37,2.8],[-0.50,-0.46,3.0],[-0.58,-0.56,3.2],[-0.64,-0.60,3.4],[-0.71,-0.65,3.6],[-0.77,-0.73,3.8],[-0.83,-0.80,4.0],[-0.90,-0.85,4.2],[-0.96,-0.89,4.4],[-1.02,-0.94,4.6],[-1.08,-0.98,4.8],[-1.12,-1.04,5.0],[-1.16,-1.10,5.2],[-1.19,-1.16,5.4],[-1.20,-1.22,5.6],
  [-1.25,-1.50,7.2],[-1.16,-1.46,7.5],[-1.08,-1.40,7.8],[-1.00,-1.35,8.1],[-0.92,-1.29,8.4],[-0.83,-1.22,8.7],[-0.75,-1.16,9.0],[-0.67,-1.10,9.3],[-0.58,-1.02,9.6],[-0.50,-0.95,9.9],[-0.42,-0.89,10.2],[-0.34,-0.83,10.4],[-0.25,-0.75,10.6],[-0.17,-0.68,10.8],[-0.08,-0.60,11.0],[0.00,-0.53,11.2],[0.08,-0.45,11.4],[0.16,-0.37,11.6],[0.25,-0.29,11.8],[0.33,-0.22,12.0],[0.41,-0.14,12.2],[0.49,-0.07,12.4],[0.57,0.02,12.6],[0.66,0.11,12.8],[0.74,0.20,13.0],[0.82,0.29,13.2],[0.87,0.40,13.4],[0.91,0.51,13.6],[0.93,0.62,13.8],[0.95,0.72,14.0],[0.99,0.81,14.3],[1.03,0.90,14.6],[1.07,0.99,14.9],[1.11,1.08,15.2],[1.15,1.18,15.5],[1.20,1.27,15.8],[1.24,1.35,16.1],[1.28,1.42,16.4],[1.34,1.48,16.8],[1.40,1.53,17.2],
  [-0.40,-1.00,9.8],[-0.30,-0.93,10.0],[-0.17,-0.86,10.3],[-0.08,-0.78,10.5],[0.00,-0.71,10.7],[0.08,-0.62,10.9],[0.16,-0.53,11.1],[0.25,-0.45,11.3],[0.33,-0.37,11.5],[0.43,-0.25,11.8],[0.53,-0.13,12.1],[0.62,-0.02,12.4],[0.70,0.08,12.7],[0.78,0.17,13.0],[0.87,0.26,13.3],[0.99,0.36,13.6],[1.04,0.45,13.8],[1.07,0.54,14.0],[1.12,0.63,14.2],[1.18,0.72,14.4],[1.20,0.81,14.6],[1.20,0.90,14.8],[1.23,0.99,15.0],[1.26,1.08,15.3],[1.30,1.16,15.6],[1.34,1.24,15.9],[1.38,1.29,16.2],[1.42,1.33,16.5],[1.48,1.38,16.8],
  [-1.10,-1.45,7.6],[-0.95,-1.38,8.0],[-0.80,-1.30,8.4],[-0.68,-1.20,8.8],[-0.56,-1.10,9.2],[-0.44,-0.99,9.6],[-0.32,-0.88,10.0],[-0.20,-0.78,10.3],[-0.10,-0.70,10.6],[0.02,-0.62,10.9],[0.12,-0.52,11.2],[0.24,-0.40,11.5],[0.36,-0.30,11.8],[0.46,-0.20,12.1],[0.56,-0.08,12.4],[0.64,0.04,12.7],[0.72,0.18,13.0],[0.78,0.32,13.3],[0.82,0.46,13.6],[0.86,0.60,13.9],[0.90,0.74,14.2],[0.95,0.88,14.6],[1.00,1.02,15.0],[1.06,1.16,15.4],[1.13,1.28,15.8],[1.20,1.38,16.2],
  [1.35,1.50,17.5],[1.42,1.55,17.8],[1.50,1.58,18.0],[1.56,1.58,18.2],[1.58,1.54,18.4],[1.55,1.50,18.6],[1.48,1.45,18.8],[1.38,1.46,17.6],[1.32,1.42,19.0],[1.45,1.60,17.9],
  [1.20,1.30,16.0],[1.25,1.38,16.4],[1.30,1.45,16.9],[1.38,1.50,17.3],[1.45,1.52,17.5],[1.52,1.55,17.9],[1.10,1.25,17.5],[1.15,1.32,17.8],[1.05,1.20,18.2],[1.00,1.12,18.5],[0.95,1.05,18.8],[1.40,1.42,16.6],[1.35,1.36,16.3],[1.50,1.46,16.9],[1.45,1.40,16.2],[1.40,1.30,15.6],[1.35,1.20,15.2],[1.30,1.10,14.8],
  [0.70,1.10,19.4],[0.80,1.15,19.2],[0.90,1.20,19.0],[1.00,1.25,18.8],[0.62,1.02,19.8],
  [1.28,1.45,19.0],[1.16,1.39,19.3],[0.99,1.33,19.6],[0.87,1.28,19.9],[0.72,1.24,20.2],[0.58,1.19,20.5],[0.41,1.13,20.8],[0.29,1.05,21.0],[0.16,1.01,21.2],[0.04,0.92,21.4],[-0.07,0.84,21.6],[-0.19,0.72,21.8],[-0.29,0.63,22.0],[-0.42,0.51,22.2],[-0.52,0.43,22.4],[-0.63,0.32,22.6],[-0.71,0.23,22.8],[-0.79,0.14,23.0],[-0.89,0.10,23.2],[-0.98,0.02,23.4],[-1.04,-0.07,23.5],[-1.10,-0.15,23.6],[-1.18,-0.24,23.7],[-1.31,-0.37,23.8],[-1.37,-0.48,23.9],
  [1.20,1.14,19.5],[1.11,1.05,20.0],[0.99,0.96,20.5],[0.87,0.87,21.0],[0.74,0.78,21.4],[0.62,0.69,21.8],[0.49,0.60,22.2],[0.37,0.54,22.5],[0.24,0.45,22.8],[0.12,0.39,23.1],[0.00,0.31,23.4],[-0.11,0.23,23.7],
  [1.16,1.05,20.2],[1.07,0.93,20.6],[0.99,0.81,21.0],[0.91,0.69,21.4],[0.82,0.60,21.8],[0.70,0.51,22.2],[0.58,0.42,22.6],[0.41,0.32,23.0],[0.24,0.23,23.3],[0.12,0.14,23.6],
  [0.05,0.20,23.5],[0.15,0.28,23.2],[0.28,0.36,22.9],[0.40,0.44,22.6],[0.52,0.52,22.3],[0.64,0.62,22.0],[0.76,0.72,21.6],[0.86,0.80,21.2],[0.95,0.90,20.8],[1.03,0.99,20.4],[1.10,1.10,20.0],
  [0.30,0.52,22.8],[0.45,0.62,22.4],[0.58,0.74,21.9],[0.70,0.84,21.5],[0.80,0.94,21.0],[0.90,1.05,20.4],[0.66,0.57,22.4],[0.78,0.66,22.0],[0.88,0.76,21.5],[0.54,0.47,22.8]
];

var panels = [treeSap, rootSap, soilVwc, co2];

var FONT = 'DejaVu Sans';
var viridis = ['#440154', '#482475', '#414487', '#355f8d', '#2a788e', '#21918c', '#22a884', '#44bf70', '#7ad151', '#bddf26', '#fde725'];
var minus = function (s) { return String(s).replace('-', '\u2212'); };

var grids = [
  { left: 94, top: 9, width: 400, height: 377, border: '#000', bw: 1 },
  { left: 511, top: 9, width: 399, height: 377, border: '#000', bw: 1 },
  { left: 94, top: 435, width: 400, height: 376, border: '#d62728', bw: 3 },
  { left: 511, top: 435, width: 399, height: 376, border: '#d62728', bw: 3 }
];

var option = {
  animation: false,
  backgroundColor: '#fff',
  textStyle: { fontFamily: FONT },
  grid: [],
  xAxis: [],
  yAxis: [],
  series: [],
  visualMap: {
    type: 'continuous', show: false, min: 0, max: 24, dimension: 2,
    seriesIndex: [0, 1, 2, 3],
    inRange: { color: viridis }
  },
  graphic: []
};

grids.forEach(function (g, i) {
  option.grid.push({
    left: g.left, top: g.top, width: g.width, height: g.height,
    show: true, borderColor: g.border, borderWidth: g.bw, backgroundColor: 'transparent',
    outerBoundsMode: 'none'
  });
  option.xAxis.push({
    gridIndex: i, type: 'value', min: -2.5, max: 2.47,
    axisLine: { show: false, onZero: false },
    axisTick: { show: true, customValues: xTicks, length: 4, lineStyle: { color: '#000' } },
    axisLabel: {
      show: i >= 2, customValues: xTicks, rotate: 45, align: 'center', verticalAlign: 'middle',
      margin: 19, fontSize: 15, color: '#000', fontFamily: FONT, formatter: minus
    },
    splitLine: { show: true, lineStyle: { color: '#b0b0b0', width: 0.8, type: [3, 3] } }
  });
  option.yAxis.push({
    gridIndex: i, type: 'value', min: -1.70, max: 1.75,
    axisLine: { show: false, onZero: false },
    axisTick: { show: true, customValues: yTicks, length: 4, lineStyle: { color: '#000' } },
    axisLabel: {
      show: i % 2 === 0, customValues: yTicks, margin: 8, fontSize: 15.5, color: '#000', fontFamily: FONT,
      formatter: function (v) { return minus(v.toFixed(1)); }
    },
    splitLine: { show: true, lineStyle: { color: '#b0b0b0', width: 0.8, type: [3, 3] } }
  });
  option.series.push({
    type: 'scatter', xAxisIndex: i, yAxisIndex: i,
    data: panels[i], symbolSize: 7, itemStyle: { opacity: 1 }
  });

  // panel letter
  option.graphic.push({
    type: 'text', x: g.left + 13, y: g.top + 11, z: 100,
    style: { text: panelLabels[i], fontSize: 22, fontFamily: FONT, fill: '#000' }
  });
});

// stats boxes
var statPos = [[113, 68], [530, 315], [113, 495], [741, 740]];
statPos.forEach(function (p, i) {
  option.graphic.push({
    type: 'text', x: p[0], y: p[1], z: 100,
    style: {
      text: '{i|Corr} = ' + statCorr[i] + '\nP-value = ' + statP[i] + '\nLag = ' + statLag[i] + ' mins',
      fontSize: 16.5, fontFamily: FONT, fill: '#000', lineHeight: 18.5,
      backgroundColor: 'rgba(255,255,255,0.5)', padding: [1, 3, 1, 1],
      rich: { i: { fontStyle: 'italic', fontSize: 16.5, fontFamily: FONT, lineHeight: 18.5 } }
    }
  });
});

// x-axis names
var richName = {
  m: { fontSize: 17.5, fontFamily: FONT, lineHeight: 28, verticalAlign: 'middle' },
  s: { fontSize: 12.5, fontFamily: FONT, fontStyle: 'italic', verticalAlign: 'top', padding: [0, 0, 0, 1] }
};
[[294, 402], [711, 402], [294, 863]].forEach(function (p, i) {
  option.graphic.push({
    type: 'text', x: p[0], y: p[1], z: 100,
    style: { text: '{m|' + xNames[i] + '}{s|z, d}', align: 'center', verticalAlign: 'middle', rich: richName }
  });
});
option.graphic.push({
  type: 'group', x: 712, y: 865, z: 100,
  children: [
    { type: 'text', x: 0, y: 0, style: { text: xNames[3], fontSize: 17.5, fontFamily: FONT, align: 'right', verticalAlign: 'middle' } },
    { type: 'text', x: 1, y: -7, style: { text: 'z, d', fontSize: 12.5, fontStyle: 'italic', fontFamily: FONT, align: 'left', verticalAlign: 'middle' } },
    { type: 'text', x: 1, y: 7, style: { text: '2', fontSize: 12.5, fontFamily: FONT, align: 'left', verticalAlign: 'middle' } }
  ]
});

// y-axis names
[200, 627].forEach(function (cy) {
  option.graphic.push({
    type: 'group', x: 29, y: cy, rotation: Math.PI / 2, z: 100,
    children: [
      { type: 'text', x: -30, y: 0, style: { text: 'SP', fontSize: 17.5, fontStyle: 'italic', fontFamily: FONT, align: 'left', verticalAlign: 'middle' } },
      { type: 'text', x: -6, y: -8, style: { text: 'z, d', fontSize: 12.5, fontStyle: 'italic', fontFamily: FONT, align: 'left', verticalAlign: 'middle' } },
      { type: 'text', x: -6, y: 5, style: { text: 'SHAL', fontSize: 12.5, fontStyle: 'italic', fontFamily: FONT, align: 'left', verticalAlign: 'middle' } }
    ]
  });
});

// colorbar
option.grid.push({
  left: 961, top: 88, width: 19, height: 645,
  show: true, borderColor: '#333', borderWidth: 0.8, outerBoundsMode: 'none'
});
option.xAxis.push({
  gridIndex: 4, type: 'category', data: ['t'], show: false
});
option.yAxis.push({
  gridIndex: 4, type: 'value', min: 0, max: 24, interval: 6, position: 'right',
  axisLine: { show: false },
  axisTick: { show: true, length: 4, lineStyle: { color: '#000' } },
  axisLabel: {
    margin: 8, fontSize: 16.5, color: '#000', fontFamily: FONT,
    formatter: function (v) { return (v < 10 ? '0' : '') + v + ':00'; }
  },
  splitLine: { show: false }
});
option.series.push({
  type: 'bar', xAxisIndex: 4, yAxisIndex: 4, data: [hourTicks[hourTicks.length - 1]],
  barWidth: '100%', silent: true,
  itemStyle: {
    color: new echarts.graphic.LinearGradient(0, 0, 0, 1, viridis.slice().reverse().map(function (c, k, arr) {
      return { offset: k / (arr.length - 1), color: c };
    }))
  }
});
option.graphic.push({
  type: 'text', x: 1066, y: 410, rotation: Math.PI / 2, z: 100,
  style: { text: 'Time of day', fontSize: 17.5, fontFamily: FONT, align: 'center', verticalAlign: 'middle', fill: '#000' }
});

var chart = echarts.init(document.getElementById('chart'), null, { renderer: 'canvas' });
chart.setOption(option);
</script>
</body>
</html>
